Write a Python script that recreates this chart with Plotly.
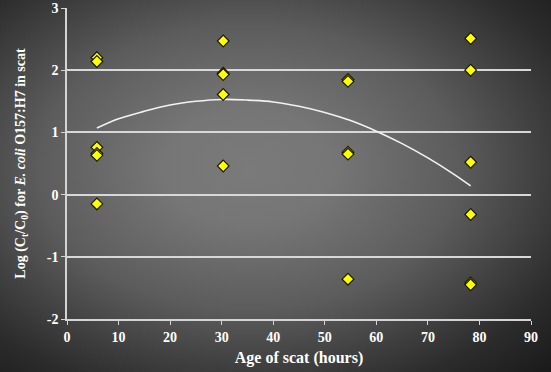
import base64
import plotly.graph_objects as go

# ---- data ----
hours = [5.8, 5.8, 5.8, 5.8, 5.8, 5.8,
         30.3, 30.3, 30.3, 30.3, 30.3,
         54.5, 54.5, 54.5, 54.5, 54.5,
         78.3, 78.3, 78.3, 78.3, 78.3, 78.3]
log_ratio = [2.20, 2.14, 0.76, 0.66, 0.63, -0.15,
             2.47, 1.95, 1.93, 1.61, 0.46,
             1.85, 1.82, 0.68, 0.65, -1.36,
             2.51, 2.00, 0.52, -0.32, -1.42, -1.45]

# trendline points
trend_x = [5.8, 10, 15, 20, 25, 30, 35, 40, 45, 50, 55, 60, 65, 70, 75, 78.3]
trend_y = [1.07, 1.22, 1.34, 1.44, 1.50, 1.53, 1.52, 1.49, 1.42, 1.32, 1.19, 1.02, 0.82, 0.59, 0.33, 0.14]

x_ticks = [0, 10, 20, 30, 40, 50, 60, 70, 80, 90]
y_ticks = [-2, -1, 0, 1, 2, 3]
y_tick_labels = ["-2", "-1", "0", "1", "2", "3"]

W, H = 551, 372
ML, MR, MT, MB = 67, 20, 8, 53
PW, PH = W - ML - MR, H - MT - MB

# radial gray gradient background as an SVG image
svg = (
    '<svg xmlns="http://www.w3.org/2000/svg" width="551" height="372" '
    'preserveAspectRatio="none" viewBox="0 0 551 372">'
    '<defs><radialGradient id="g" cx="0.45" cy="0.45" r="0.85" fx="0.45" fy="0.45">'
    '<stop offset="0" stop-color="#7a7a7a"/>'
    '<stop offset="0.18" stop-color="#767676"/>'
    '<stop offset="0.45" stop-color="#5c5c5c"/>'
    '<stop offset="0.75" stop-color="#2c2c2c"/>'
    '<stop offset="0.95" stop-color="#161616"/>'
    '<stop offset="1" stop-color="#141414"/>'
    '</radialGradient></defs>'
    '<rect x="0" y="0" width="551" height="372" fill="url(#g)"/></svg>'
)
src = "data:image/svg+xml;base64," + base64.b64encode(svg.encode()).decode()

FONT = "Liberation Serif"
AXCOL = "#d4d4d4"

fig = go.Figure()
fig.add_trace(go.Scatter(
    x=trend_x, y=trend_y, mode="lines",
    line=dict(color="#f2f2f2", width=1.6, shape="spline", smoothing=1),
    hoverinfo="skip", showlegend=False))
fig.add_trace(go.Scatter(
    x=hours, y=log_ratio, mode="markers",
    marker=dict(symbol="diamond", size=9, color="#ffff00",
                line=dict(color="#1a1a00", width=1.2)),
    showlegend=False))

fig.update_layout(
    width=W, height=H,
    margin=dict(l=ML, r=MR, t=MT, b=MB, autoexpand=False),
    paper_bgcolor="#1e1e1e",
    plot_bgcolor="rgba(0,0,0,0)",
    font=dict(family=FONT, color="white", size=14),
    images=[dict(source=src, xref="paper", yref="paper",
                 x=-ML / PW, y=1 + MT / PH, sizex=W / PW, sizey=H / PH,
                 xanchor="left", yanchor="top", sizing="stretch", layer="below")],
    xaxis=dict(
        range=[0, 90], tickvals=x_ticks, automargin=False,
        ticktext=[f"<b>{v}</b>" for v in x_ticks],
        showgrid=False, zeroline=False,
        showline=True, linecolor=AXCOL, linewidth=1.5,
        ticks="outside", ticklen=4, tickcolor=AXCOL, tickwidth=1,
        tickfont=dict(family=FONT, size=14, color="white"),
        title=dict(text="<b>Age of scat (hours)</b>",
                   font=dict(family=FONT, size=16, color="white"), standoff=8),
    ),
    yaxis=dict(
        range=[-2, 3], tickvals=y_ticks, automargin=False,
        ticktext=[f"<b>{t}</b>" for t in y_tick_labels],
        showgrid=True, gridcolor="#d8d8d8", gridwidth=1.5, zeroline=False,
        showline=True, linecolor=AXCOL, linewidth=1.5,
        ticks="outside", ticklen=4, tickcolor=AXCOL, tickwidth=1,
        tickfont=dict(family=FONT, size=14, color="white"),
        title=dict(text="<b>Log (C<sub>t</sub>/C<sub>0</sub>) for <i>E. coli</i> O157:H7 in scat</b>",
                   font=dict(family=FONT, size=14, color="white"), standoff=18),
    ),
)

fig.write_html("out.html", config={"displayModeBar": False},
               post_script="document.body.style.margin='0';document.body.style.background='#1e1e1e';")
